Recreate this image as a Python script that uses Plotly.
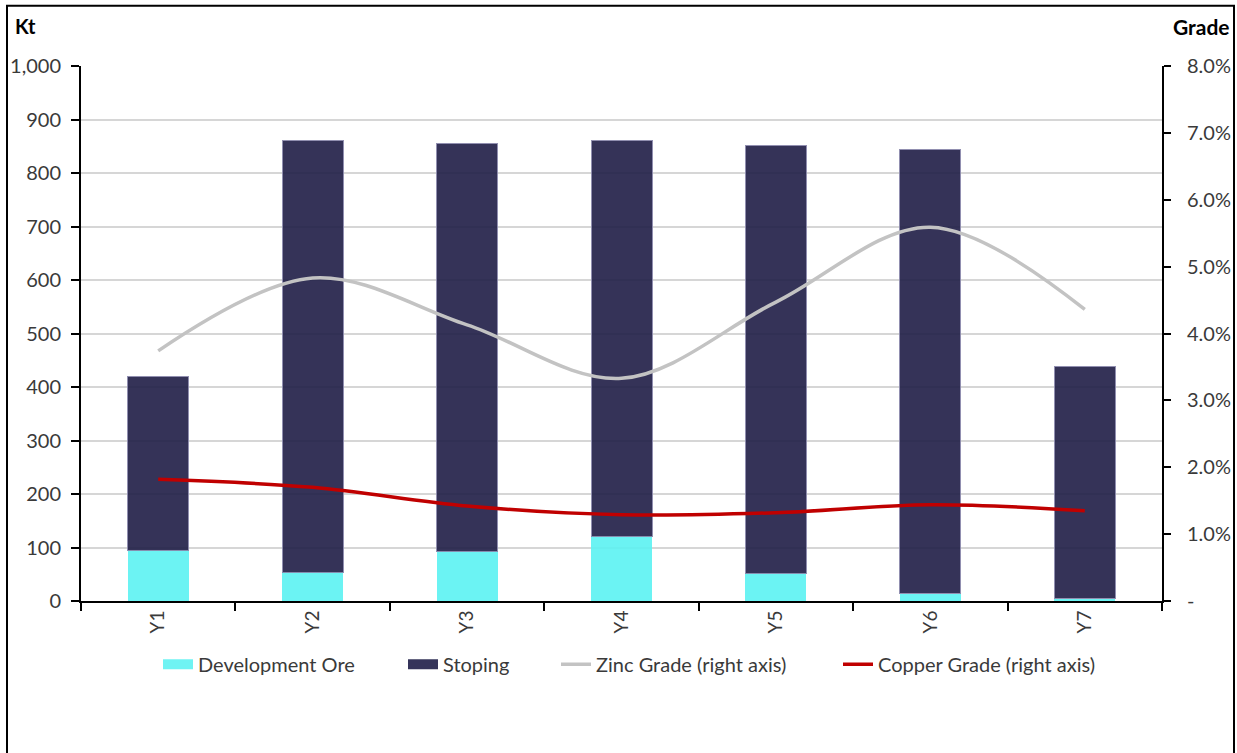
import plotly.graph_objects as go

# Annual ore tonnage (Kt) and head grades
years = ["Y1", "Y2", "Y3", "Y4", "Y5", "Y6", "Y7"]
development_ore = [95, 54, 93, 121, 52, 14, 4]
stoping = [324, 806, 762, 740, 800, 829, 435]
zinc_grade = [0.0374, 0.0483, 0.0413, 0.0333, 0.0447, 0.0559, 0.0436]
copper_grade = [0.0182, 0.0170, 0.0142, 0.0129, 0.0132, 0.0144, 0.0135]

left_ticks = list(range(0, 1001, 100))
right_ticks = [i / 100 for i in range(0, 9)]
right_labels = ["-"] + [f"{v * 100:.1f}%" for v in right_ticks[1:]]

FONT = "Lato, 'Open Sans', sans-serif"
TEXT = "#3a3a3a"
CYAN = "#5ff2f2"
NAVY = "#24224a"

# Plot-area geometry (pixels) used to place the legend entries along the bottom
W, H = 1237, 753
L, R, T, B = 81, 75, 66, 152
PW = W - L - R


def px_to_paper_x(px):
    return (px - L) / PW


fig = go.Figure()

# Stacked tonnage bars (legend shown through the swatch entries below)
fig.add_trace(go.Bar(
    x=years, y=development_ore, name="Development Ore", showlegend=False,
    marker=dict(color=CYAN, line=dict(width=0)), opacity=0.92,
))
fig.add_trace(go.Bar(
    x=years, y=stoping, name="Stoping", showlegend=False,
    marker=dict(color=NAVY, line=dict(color="#8886aa", width=1)), opacity=0.92,
))

# Wide rectangular legend swatches for the bar series
fig.add_trace(go.Scatter(
    x=[None], y=[None], name="Development Ore", mode="lines", legend="legend",
    line=dict(color="#6ff3f3", width=12), hoverinfo="skip",
))
fig.add_trace(go.Scatter(
    x=[None], y=[None], name="Stoping", mode="lines", legend="legend2",
    line=dict(color="#35345a", width=12), hoverinfo="skip",
))

fig.add_trace(go.Scatter(
    x=years, y=zinc_grade, name="Zinc Grade (right axis)", yaxis="y2", legend="legend3",
    mode="lines", line=dict(color="#c3c3c3", width=3.5, shape="spline", smoothing=1.0),
))
fig.add_trace(go.Scatter(
    x=years, y=copper_grade, name="Copper Grade (right axis)", yaxis="y2", legend="legend4",
    mode="lines", line=dict(color="#c00000", width=3.5, shape="spline", smoothing=1.0),
))

legend_y = -0.118
legend_common = dict(
    orientation="h", xanchor="left", y=legend_y, yanchor="middle",
    font=dict(size=20, color=TEXT), itemwidth=30, bgcolor="rgba(0,0,0,0)",
)

fig.update_layout(
    width=W, height=H,
    margin=dict(l=L, r=R, t=T, b=B, autoexpand=False),
    paper_bgcolor="white", plot_bgcolor="white",
    font=dict(family=FONT, size=20, color=TEXT),
    barmode="stack", bargap=0.605,
    showlegend=True,
    legend=dict(x=px_to_paper_x(158), **legend_common),
    legend2=dict(x=px_to_paper_x(403), **legend_common),
    legend3=dict(x=px_to_paper_x(556), **legend_common),
    legend4=dict(x=px_to_paper_x(838), **legend_common),
    xaxis=dict(
        type="category", tickangle=-90, showgrid=False,
        showline=True, linecolor="black", linewidth=2,
        ticks="outside", tickson="boundaries", ticklen=8, tickwidth=2, tickcolor="black",
        tickfont=dict(size=19, color=TEXT), automargin=False,
    ),
    yaxis=dict(
        range=[0, 1000], tickvals=left_ticks, ticktext=[f"{v:,}" for v in left_ticks],
        showgrid=True, gridcolor="#d6d6d6", gridwidth=2,
        showline=True, linecolor="black", linewidth=2,
        ticks="outside", ticklen=8, tickwidth=2, tickcolor="black",
        ticklabelstandoff=6, automargin=False,
        tickfont=dict(size=20, color=TEXT), zeroline=False,
    ),
    yaxis2=dict(
        overlaying="y", side="right", range=[0, 0.08],
        tickvals=right_ticks, ticktext=right_labels,
        showgrid=False, zeroline=False,
        showline=True, linecolor="black", linewidth=2,
        ticks="outside", ticklen=7, tickwidth=2, tickcolor="black",
        ticklabelstandoff=12, automargin=False,
        tickfont=dict(size=20, color=TEXT),
    ),
    annotations=[
        dict(text="<b>Kt</b>", xref="paper", yref="paper", x=px_to_paper_x(13), y=1.074,
             xanchor="left", yanchor="middle", showarrow=False,
             font=dict(size=20, color="black")),
        dict(text="<b>Grade</b>", xref="paper", yref="paper", x=px_to_paper_x(1232), y=1.074,
             xanchor="right", yanchor="middle", showarrow=False,
             font=dict(size=21, color="black")),
    ],
    shapes=[
        dict(type="rect", xref="paper", yref="paper",
             x0=px_to_paper_x(7), x1=px_to_paper_x(1234), y0=-0.35, y1=1.1125,
             line=dict(color="black", width=2), fillcolor="rgba(0,0,0,0)", layer="above"),
    ],
)

fig.write_html("out.html")
